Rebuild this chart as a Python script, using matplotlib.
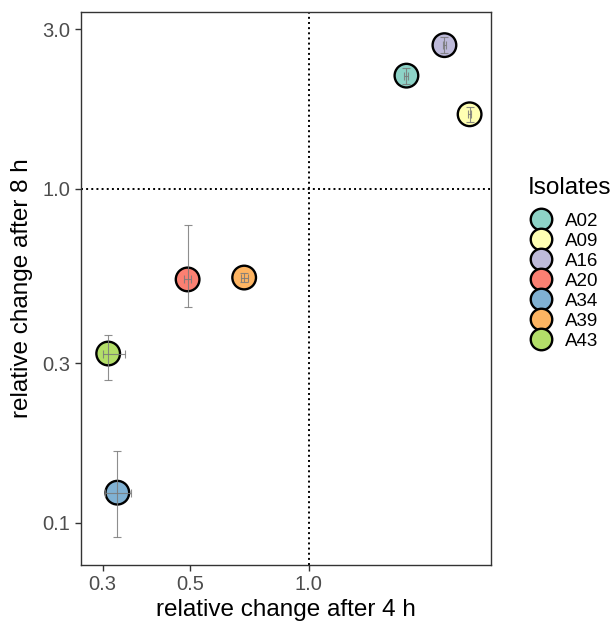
import matplotlib.pyplot as plt
import numpy as np
from matplotlib.lines import Line2D

plt.rcParams['font.family'] = ['Liberation Sans', 'DejaVu Sans']

# Data (relative changes)
isolates = ['A02', 'A09', 'A16', 'A20', 'A34', 'A39', 'A43']
colors = ['#8DD3C7', '#FFFFB3', '#BEBADA', '#FB8072', '#80B1D3', '#FDB462', '#B3DE69']
x_4h = [1.77, 2.56, 2.21, 0.493, 0.327, 0.686, 0.310]
y_8h = [2.18, 1.67, 2.69, 0.535, 0.123, 0.542, 0.321]
x_lo = [1.75, 2.54, 2.19, 0.484, 0.305, 0.672, 0.300]
x_hi = [1.79, 2.58, 2.23, 0.502, 0.355, 0.700, 0.342]
y_lo = [2.06, 1.58, 2.54, 0.441, 0.0904, 0.525, 0.267]
y_hi = [2.30, 1.76, 2.84, 0.777, 0.1637, 0.560, 0.364]

fig = plt.figure(figsize=(6.16, 6.26), dpi=100)
ax = fig.add_axes([0.131, 0.0974, 0.666, 0.8834])

x = np.array(x_4h)
y = np.array(y_8h)
xerr = [x - np.array(x_lo), np.array(x_hi) - x]
yerr = [y - np.array(y_lo), np.array(y_hi) - y]

ax.scatter(x, y, s=290, c=colors, edgecolors='black', linewidths=1.7, zorder=3)
ax.errorbar(x, y, xerr=xerr, yerr=yerr, fmt='none', ecolor='#7a7a7a',
            elinewidth=0.8, capsize=2.8, capthick=0.8, alpha=0.85, zorder=4)

ax.axvline(1.0, color='black', linestyle=':', linewidth=1.4, zorder=1)
ax.axhline(1.0, color='black', linestyle=':', linewidth=1.4, zorder=1)

ax.set_xscale('log')
ax.set_yscale('log')
ax.set_xlim(0.264, 2.90)
ax.set_ylim(0.0747, 3.38)
ax.set_xticks([0.3, 0.5, 1.0])
ax.set_xticklabels(['0.3', '0.5', '1.0'])
ax.set_yticks([0.1, 0.3, 1.0, 3.0])
ax.set_yticklabels(['0.1', '0.3', '1.0', '3.0'])
ax.minorticks_off()

ax.tick_params(axis='both', colors='#333333', labelcolor='#4d4d4d',
               labelsize=14.5, length=4, width=1)
for sp in ax.spines.values():
    sp.set_color('#333333')
    sp.set_linewidth(1)

ax.set_xlabel('relative change after 4 h', fontsize=17.5, labelpad=3)
ax.set_ylabel('relative change after 8 h', fontsize=17.5, labelpad=7)

# legend title as separate text, entries below
fig.text(528 / 616, 1 - 188 / 626, 'Isolates', fontsize=17.5, va='center', ha='left')
handles = [Line2D([], [], marker='o', linestyle='none', markersize=15.5,
                  markerfacecolor=c, markeredgecolor='black', markeredgewidth=1.7)
           for c in colors]
leg = fig.legend(handles, isolates, loc='upper left',
                 bbox_to_anchor=(0.845, 0.672), frameon=False, fontsize=13.5,
                 handletextpad=0.55, labelspacing=0.15,
                 borderaxespad=0, handlelength=1.4)

fig.savefig('out.png', dpi=100)
